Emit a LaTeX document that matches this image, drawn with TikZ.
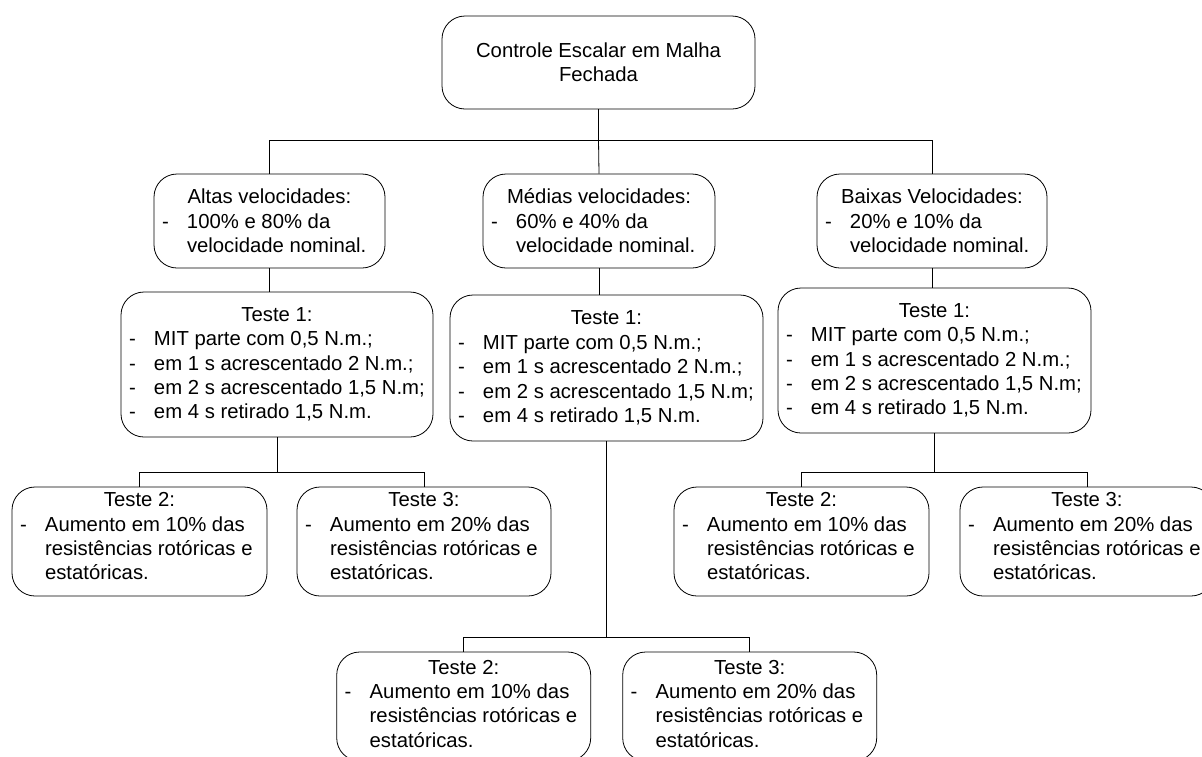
\documentclass[tikz,border=0pt]{standalone}
\usepackage{fontspec}
\setmainfont{Liberation Sans}
\newcommand{\fs}{\fontsize{20.3pt}{24.4pt}\selectfont}
\newcommand{\dl}[1]{\makebox[25pt][l]{-}\mbox{#1}}
\newcommand{\il}[1]{\hspace*{25pt}\mbox{#1}}
\newcommand{\hd}[1]{\makebox[\linewidth][c]{#1}}
\newcommand{\cbox}[3]{\parbox[c][#2][c]{#1}{\raggedright\fs #3}}
\newcommand{\tbox}[4]{\parbox[c][#2][t]{#1}{\raggedright\fs\vspace*{#3}#4}}
\newcommand{\testone}{\hd{Teste 1:}\\\dl{MIT parte com 0,5 N.m.;}\\\dl{em 1 s acrescentado 2 N.m.;}\\\dl{em 2 s acrescentado 1,5 N.m;}\\\dl{em 4 s retirado 1,5 N.m.}}
\newcommand{\testtwo}{\hd{Teste 2:}\\\dl{Aumento em 10\% das}\\\il{resist\^encias rot\'oricas e}\\\il{estat\'oricas.}}
\newcommand{\testthree}{\hd{Teste 3:}\\\dl{Aumento em 20\% das}\\\il{resist\^encias rot\'oricas e}\\\il{estat\'oricas.}}
\begin{document}
\begin{tikzpicture}[x=1pt,y=-1pt,
  box/.style={draw=black, line width=0.8pt, rounded corners=23pt, fill=white, inner xsep=8pt, inner ysep=0pt},
  conn/.style={draw=black, line width=0.8pt}]
\fill[white] (0,0) rectangle (1202,756);
\useasboundingbox (0,0) rectangle (1202,756);
% level 0
\node[box] (top) at (598.5,62.5) {\cbox{297pt}{93pt}{\centering Controle Escalar em Malha\\Fechada}};
% level 1
\node[box] (altas) at (269.5,221) {\cbox{215pt}{94pt}{\hd{Altas velocidades:}\\\dl{100\% e 80\% da}\\\il{velocidade nominal.}}};
\node[box] (medias) at (599,221) {\cbox{216pt}{94pt}{\hd{Médias velocidades:}\\\dl{60\% e 40\% da}\\\il{velocidade nominal.}}};
\node[box] (baixas) at (932,221) {\cbox{214pt}{94pt}{\hd{Baixas Velocidades:}\\\dl{20\% e 10\% da}\\\il{velocidade nominal.}}};
% level 2
\node[box] (t1a) at (277,364.5) {\cbox{296pt}{145pt}{\testone}};
\node[box] (t1m) at (606.5,368) {\cbox{297pt}{146pt}{\testone}};
\node[box] (t1b) at (934.5,360.5) {\cbox{297pt}{145pt}{\testone}};
% level 3
\node[box] (t2a) at (139.5,541.5) {\tbox{239pt}{109pt}{5.5pt}{\testtwo}};
\node[box] (t3a) at (424,541.5) {\tbox{238pt}{109pt}{5.5pt}{\testthree}};
\node[box] (t2b) at (801.5,541.5) {\tbox{239pt}{109pt}{5.5pt}{\testtwo}};
\node[box] (t3b) at (1087,541.5) {\tbox{238pt}{109pt}{5.5pt}{\testthree}};
\node[box] (t2m) at (463.7,706.5) {\tbox{238pt}{109pt}{8pt}{\testtwo}};
\node[box] (t3m) at (749.7,706.5) {\tbox{238pt}{109pt}{8pt}{\testthree}};
% connectors
\coordinate (j1) at (598.5,140);
\coordinate (ja) at (277,472);
\coordinate (jb) at (934.5,472);
\coordinate (jm) at (606.5,637);
\draw[conn] (top.south) -- (j1);
\draw[conn] (altas.north) -- (altas.north |- j1) -- (baixas.north |- j1) -- (baixas.north);
\draw[conn] (j1) -- (medias.north);
\draw[conn] (altas.south) -- (altas.south |- t1a.north);
\draw[conn] (medias.south) -- (medias.south |- t1m.north);
\draw[conn] (baixas.south) -- (baixas.south |- t1b.north);
\draw[conn] (t1a.south) -- (ja);
\draw[conn] (t2a.north) -- (t2a.north |- ja) -- (t3a.north |- ja) -- (t3a.north);
\draw[conn] (t1b.south) -- (jb);
\draw[conn] (t2b.north) -- (t2b.north |- jb) -- (t3b.north |- jb) -- (t3b.north);
\draw[conn] (t1m.south) -- (jm);
\draw[conn] (t2m.north) -- (t2m.north |- jm) -- (t3m.north |- jm) -- (t3m.north);
\end{tikzpicture}
\end{document}
